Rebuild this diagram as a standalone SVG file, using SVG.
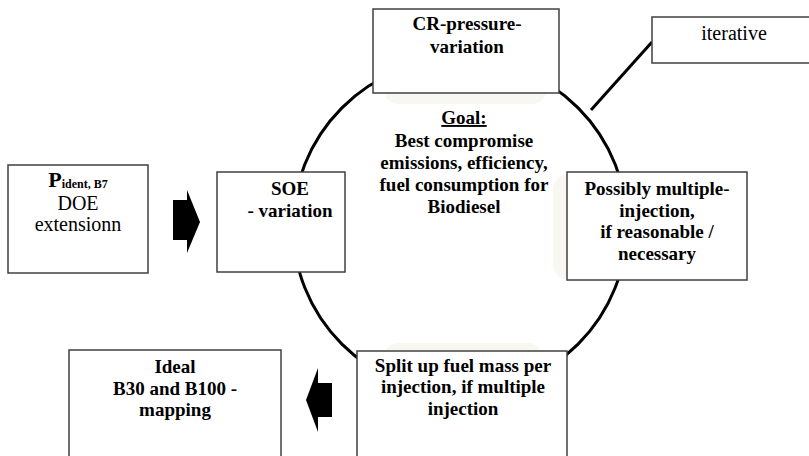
<svg xmlns="http://www.w3.org/2000/svg" width="809" height="456" viewBox="0 0 809 456">
<style>
.box{fill:#fff;stroke:#404040;stroke-width:1.5}
.bg{fill:#f8f7f1}
text{font-family:'Liberation Serif','Times New Roman','DejaVu Serif',serif}
.t{font-size:19px;font-weight:bold;fill:#000;text-anchor:middle}
.r{font-size:20px;fill:#000;text-anchor:middle}
</style>
<rect width="809" height="456" fill="#fff"/>
<g id="backgrounds">
<rect class="bg" x="384" y="20" width="162" height="84" rx="14"/>
<rect class="bg" x="553" y="174" width="170" height="106" rx="16"/>
<rect class="bg" x="384" y="343" width="158" height="100" rx="14"/>
</g>
<g id="connectors">
<circle cx="460" cy="226" r="167" fill="none" stroke="#000" stroke-width="3"/>
<line x1="652" y1="42" x2="591" y2="110" stroke="#000" stroke-width="3"/>
<polygon points="173,200 187,200 187,190 200,222 187,253 187,240 173,240" fill="#000"/>
<polygon points="332,383 318,383 318,368 306,400 318,432 318,417 332,417" fill="#000"/>
</g>
<g id="node-p">
<rect class="box" x="8" y="165" width="140" height="108"/>
<text class="t" x="78" y="187" font-family="Liberation Serif, serif"><tspan font-size="22px">P</tspan><tspan font-size="12px" dy="1">ident, B7</tspan></text>
<text class="r" x="78" y="210" font-family="Liberation Serif, serif">DOE</text>
<text class="r" x="78" y="231" font-family="Liberation Serif, serif">extensionn</text>
</g>
<g id="node-soe">
<rect class="box" x="217" y="172" width="128" height="100"/>
<text class="t" x="290" y="195">SOE</text>
<text class="t" x="290" y="217">- variation</text>
</g>
<g id="node-cr">
<rect class="box" x="373" y="9" width="186" height="84"/>
<text class="t" x="467" y="30">CR-pressure-</text>
<text class="t" x="467" y="53">variation</text>
</g>
<g id="node-iterative">
<rect class="box" x="652" y="17" width="170" height="46"/>
<text class="r" x="734" y="40" font-size="19px">iterative</text>
</g>
<g id="node-goal">
<text class="t" x="464" y="124" text-decoration="underline">Goal:</text>
<text class="t" x="464" y="147">Best compromise</text>
<text class="t" x="464" y="169">emissions, efficiency,</text>
<text class="t" x="464" y="191">fuel consumption for</text>
<text class="t" x="464" y="213">Biodiesel</text>
</g>
<g id="node-multi">
<rect class="box" x="567" y="172" width="180" height="108"/>
<text class="t" x="657" y="195">Possibly multiple-</text>
<text class="t" x="657" y="217">injection,</text>
<text class="t" x="657" y="238">if reasonable /</text>
<text class="t" x="657" y="260">necessary</text>
</g>
<g id="node-split">
<rect class="box" x="357" y="351" width="210" height="110"/>
<text class="t" x="463" y="372">Split up fuel mass per</text>
<text class="t" x="463" y="393">injection, if multiple</text>
<text class="t" x="463" y="415">injection</text>
</g>
<g id="node-ideal">
<rect class="box" x="69" y="350" width="212" height="112"/>
<text class="t" x="175" y="373">Ideal</text>
<text class="t" x="175" y="395">B30 and B100 -</text>
<text class="t" x="175" y="416">mapping</text>
</g>
</svg>
